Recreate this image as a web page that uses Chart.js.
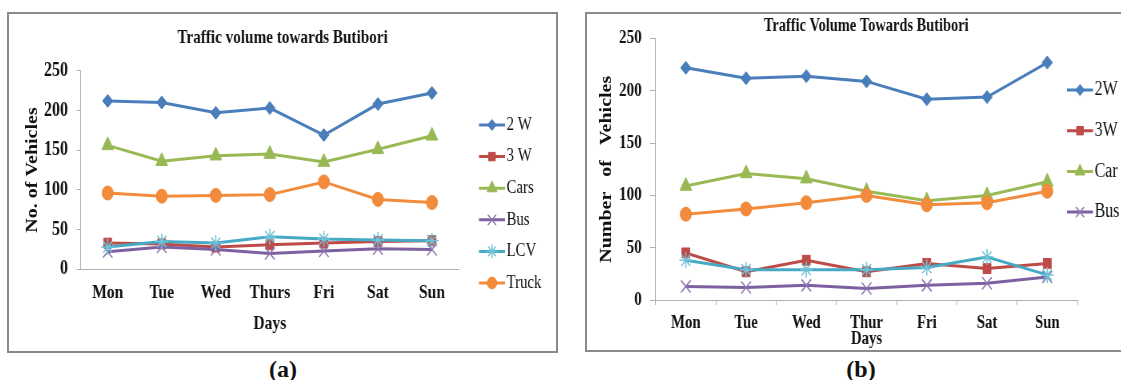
<!DOCTYPE html>
<html>
<head>
<meta charset="utf-8">
<script src="https://cdn.jsdelivr.net/npm/chart.js@4/dist/chart.umd.min.js"></script>
<style>
  html, body { margin: 0; padding: 0; background: #fff; }
  body { position: relative; width: 1121px; height: 380px; overflow: hidden; }
  .frame { position: absolute; box-sizing: border-box; border: 2px solid #8a8a8a; }
  .squeeze { position: absolute; transform: scaleX(0.8); transform-origin: 0 0; }
  .tag { position: absolute; width: 80px; text-align: center; color: #111;
         font: bold 24px "Liberation Serif", "Times New Roman", serif; line-height: 24px; }
</style>
</head>
<body>
<div class="frame" style="left:7px;top:12px;width:551px;height:341px"></div>
<div class="frame" style="left:585px;top:12px;width:600px;height:340px"></div>
<canvas id="chartA" class="squeeze" width="684" height="338" style="left:9px;top:14px"></canvas>
<canvas id="chartB" class="squeeze" width="698" height="336" style="left:587px;top:14px"></canvas>
<div class="tag" style="left:243px;top:357px">(a)</div>
<div class="tag" style="left:821px;top:357px">(b)</div>

<script>
// ---- data ----------------------------------------------------------
const daysA = ['Mon', 'Tue', 'Wed', 'Thurs', 'Fri', 'Sat', 'Sun'];
const daysB = ['Mon', 'Tue', 'Wed', 'Thur', 'Fri', 'Sat', 'Sun'];
const yTickValues = [0, 50, 100, 150, 200, 250];

// (a) vehicles per day
const twoWheelerA   = [212, 210, 197, 203, 169, 208, 222];
const threeWheelerA = [33, 32, 28, 31, 33, 35, 36];
const carsA         = [156, 136, 143, 145, 135, 151, 168];
const busA          = [22, 28, 25, 20, 23, 26, 25];
const lcvA          = [28, 35, 33, 41, 38, 37, 36];
const truckA        = [96, 92, 93, 94, 110, 88, 84];

// (b) vehicles per day
const twoWheelerB   = [222, 212, 214, 209, 192, 194, 227];
const threeWheelerB = [45, 27, 38, 27, 35, 30, 35];
const carB          = [109, 121, 116, 104, 95, 100, 113];
const busB          = [13, 12, 14, 11, 14, 16, 22];
const lcvB          = [38, 29, 29, 29, 31, 41, 24];
const truckB        = [82, 87, 93, 100, 91, 93, 104];

// ---- styling -------------------------------------------------------
const SERIF = '"Liberation Serif", "Times New Roman", serif';
const INK = '#111';
const AXIS = '#b0b0b0';

const looks = {
  twoW:  { line: '#4a7ebb', fill: '#4a7ebb', edge: '#4a7ebb', shape: 'rectRot',  r: 6.5, bw: 1 },
  threeW:{ line: '#be4b48', fill: '#be4b48', edge: '#be4b48', shape: 'rect',     r: 7,   bw: 1 },
  car:   { line: '#98b954', fill: '#98b954', edge: '#98b954', shape: 'triangle', r: 8.5, bw: 1 },
  bus:   { line: '#7d60a0', fill: '#8c74b0', edge: '#8c74b0', shape: 'crossRot', r: 8.5, bw: 1.5 },
  lcv:   { line: '#46aac5', fill: '#6fc2d8', edge: '#6fc2d8', shape: 'star',     r: 8,   bw: 1.5 },
  truck: { line: '#f28b3c', fill: '#f28b3c', edge: '#f28b3c', shape: 'circle',   r: 7,   bw: 1 }
};

function series(label, data, look, i, n) {
  return {
    label, data,
    borderColor: look.line, borderWidth: 3, fill: false, tension: 0,
    pointStyle: look.shape, pointRadius: look.r, pointHoverRadius: look.r,
    pointBackgroundColor: look.fill, pointBorderColor: look.edge, pointBorderWidth: look.bw,
    order: n - i // later series sit on top
  };
}

// legend: short line with the marker in its middle, label to the right
const lineLegend = {
  id: 'lineLegend',
  afterDraw(chart, args, o) {
    const ctx = chart.ctx;
    const sets = chart.data.datasets.slice(0, o.count);
    ctx.save();
    sets.forEach((ds, i) => {
      const y = o.top + i * o.spacing;
      const x0 = o.left, x1 = o.left + o.length;
      ctx.lineCap = 'butt';
      ctx.strokeStyle = ds.borderColor;
      ctx.lineWidth = ds.borderWidth;
      ctx.beginPath(); ctx.moveTo(x0, y); ctx.lineTo(x1, y); ctx.stroke();
      ctx.fillStyle = ds.pointBackgroundColor;
      ctx.strokeStyle = ds.pointBorderColor;
      ctx.lineWidth = ds.pointBorderWidth;
      Chart.helpers.drawPoint(ctx, {
        pointStyle: ds.pointStyle, rotation: 0,
        radius: ds.pointRadius * o.markerScale, borderWidth: ds.pointBorderWidth
      }, (x0 + x1) / 2, y);
      ctx.fillStyle = o.color;
      ctx.font = o.font;
      ctx.textAlign = 'left';
      ctx.textBaseline = 'middle';
      ctx.fillText(ds.label, x1 + o.gap, y);
    });
    ctx.restore();
  }
};

function fixedTicks(scale) {
  scale.ticks = yTickValues.map(v => ({ value: v }));
}

function makeChart(el, cfg) {
  const n = cfg.series.length;
  return new Chart(el, {
    type: 'line',
    data: {
      labels: cfg.labels,
      datasets: cfg.series.map((s, i) => series(s[0], s[1], s[2], i, n))
    },
    options: {
      responsive: false,
      animation: false,
      events: [],
      layout: { padding: 0 },
      plugins: {
        legend: { display: false },
        tooltip: { enabled: false },
        title: {
          display: true, text: cfg.title, color: INK,
          font: { family: SERIF, size: cfg.titleSize, weight: 'bold' },
          padding: cfg.titlePad
        },
        lineLegend: cfg.legend
      },
      scales: {
        x: {
          offset: true,
          grid: { display: true, drawOnChartArea: false, offset: true,
                  drawTicks: cfg.xTickMarks, tickLength: 5, color: AXIS },
          border: { color: AXIS, width: 1 },
          ticks: { color: INK, font: { family: SERIF, size: cfg.xFont, weight: 'bold' },
                   padding: cfg.xPad, maxRotation: 0, autoSkip: false },
          title: { display: true, text: 'Days', color: INK,
                   font: { family: SERIF, size: cfg.xFont, weight: 'bold' },
                   padding: { top: 0, bottom: cfg.daysPad } },
          afterFit: s => { s.height = cfg.xHeight; }
        },
        y: {
          min: 0, max: 250,
          afterBuildTicks: fixedTicks,
          grid: { display: true, drawOnChartArea: false, drawTicks: true,
                  tickLength: cfg.yTick, color: AXIS },
          border: { color: AXIS, width: 1 },
          ticks: { color: INK, font: { family: SERIF, size: cfg.yFont, weight: 'bold' },
                   padding: cfg.yPad },
          title: { display: true, text: cfg.yTitle, color: INK,
                   font: { family: SERIF, size: cfg.yTitleSize, weight: 'bold' },
                   padding: { top: cfg.yTitlePad, bottom: 0 } },
          afterFit: s => { s.width = cfg.yWidth; }
        },
        legendSpace: {
          type: 'linear', position: 'right',
          grid: { display: false }, border: { display: false }, ticks: { display: false },
          afterFit: s => { s.width = cfg.rightWidth; }
        }
      }
    },
    plugins: [lineLegend]
  });
}

makeChart(document.getElementById('chartA'), {
  labels: daysA,
  title: 'Traffic volume towards Butibori',
  titleSize: 19, titlePad: { top: 12.6, bottom: 21.3 },
  xFont: 19.5, xPad: 12, xTickMarks: false, daysPad: 16.3, xHeight: 82.7,
  yFont: 20, yPad: 10.9, yTick: 5, yTitle: 'No. of Vehicles', yTitleSize: 20, yTitlePad: 18,
  yWidth: 89.6, rightWidth: 121.5,
  legend: { count: 6, left: 587.5, top: 111, spacing: 31.6, length: 32.5, gap: 2,
            markerScale: 0.85, color: INK, font: 'normal 400 18.5px ' + SERIF },
  series: [
    ['2 W', twoWheelerA, looks.twoW],
    ['3 W', threeWheelerA, looks.threeW],
    ['Cars', carsA, looks.car],
    ['Bus', busA, looks.bus],
    ['LCV', lcvA, looks.lcv],
    ['Truck', truckA, looks.truck]
  ]
});

makeChart(document.getElementById('chartB'), {
  labels: daysB,
  title: 'Traffic Volume Towards Butibori',
  titleSize: 18, titlePad: { top: 1.9, bottom: 1.0 },
  xFont: 18.5, xPad: 7.2, xTickMarks: true, daysPad: 0, xHeight: 50,
  yFont: 19, yPad: 10.5, yTick: 7, yTitle: 'Number   of   Vehicles', yTitleSize: 20, yTitlePad: 12.6,
  yWidth: 85.9, rightWidth: 85,
  legend: { count: 4, left: 600, top: 76, spacing: 40.7, length: 32.5, gap: 2,
            markerScale: 0.85, color: INK, font: 'normal 400 20px ' + SERIF },
  series: [
    ['2W', twoWheelerB, looks.twoW],
    ['3W', threeWheelerB, looks.threeW],
    ['Car', carB, looks.car],
    ['Bus', busB, looks.bus],
    ['LCV', lcvB, looks.lcv],
    ['Truck', truckB, looks.truck]
  ]
});
</script>
</body>
</html>
